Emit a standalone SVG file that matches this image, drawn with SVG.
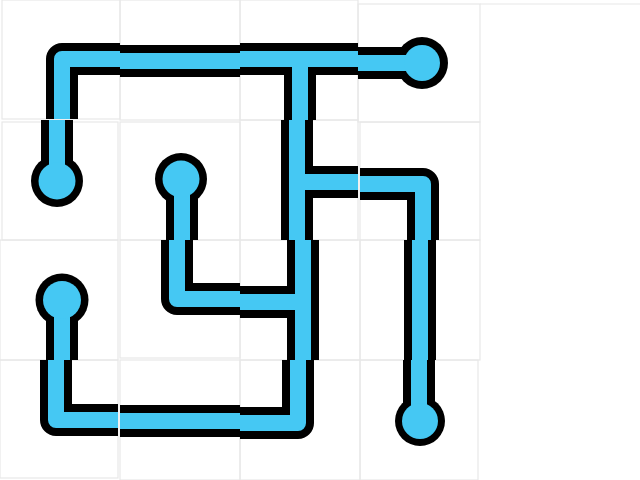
<svg xmlns="http://www.w3.org/2000/svg" width="640" height="480" viewBox="0 0 640 480">
<style>
.bg{fill:#ffffff}
.t{fill:none;stroke:#e8e8e8;stroke-width:1.2}
.o{fill:none;stroke:#000;stroke-width:32;stroke-linejoin:round}
.i{fill:none;stroke:#45c8f3;stroke-width:16;stroke-linejoin:round}
.oc{fill:#000}
.ic{fill:#45c8f3}
</style>
<rect class="bg" x="0" y="0" width="640" height="480"/>
<g id="tiles">
<rect class="t" x="2" y="0" width="118" height="119"/>
<rect class="t" x="120" y="0" width="120" height="120"/>
<rect class="t" x="240" y="0" width="118" height="120"/>
<rect class="t" x="358" y="4" width="122" height="118"/>
<line class="t" x1="480" y1="4" x2="640" y2="4"/>
<rect class="t" x="2" y="122" width="116" height="118"/>
<rect class="t" x="120" y="122" width="120" height="118"/>
<rect class="t" x="240" y="120" width="118" height="120"/>
<rect class="t" x="360" y="122" width="120" height="118"/>
<rect class="t" x="0" y="240" width="118" height="120"/>
<rect class="t" x="120" y="240" width="120" height="118"/>
<rect class="t" x="240" y="240" width="120" height="120"/>
<rect class="t" x="360" y="240" width="120" height="120"/>
<rect class="t" x="0" y="360" width="118" height="118"/>
<rect class="t" x="120" y="360" width="120" height="120"/>
<rect class="t" x="240" y="360" width="120" height="120"/>
<rect class="t" x="360" y="360" width="118" height="120"/>
</g>
<g id="t00"><path class="o" d="M120,59 H62 V119" stroke-width="33"/><path class="i" d="M120,59 H62 V119" stroke-width="15"/></g>
<g id="t10"><path class="o" d="M120,61 H240" stroke-width="37"/><path class="i" d="M120,61 H240" stroke-width="18"/></g>
<g id="t20"><path class="o" d="M240,59 H358 M300,59 V120" stroke-width="31"/><path class="i" d="M240,59 H358 M300,59 V120" stroke-width="15"/></g>
<g id="t30"><path class="o" d="M358,63 H422" stroke-width="29"/><circle class="oc" cx="422" cy="63" r="26"/><path class="i" d="M358,63 H422" stroke-width="14"/><circle class="ic" cx="422" cy="63" r="18"/></g>
<g id="t01"><path class="o" d="M57,120 V181" stroke-width="29"/><circle class="oc" cx="57" cy="181" r="26"/><path class="i" d="M57,120 V181" stroke-width="15"/><circle class="ic" cx="57" cy="181" r="18.5"/></g>
<g id="t11"><path class="o" d="M182,240 V179" stroke-width="32"/><circle class="oc" cx="181" cy="179" r="26"/><path class="i" d="M182,240 V179" stroke-width="16"/><circle class="ic" cx="181" cy="179" r="18.5"/></g>
<g id="t21"><path class="o" d="M297,120 V240 M297,182 H358" stroke-width="31"/><path class="i" d="M297,120 V240 M297,182 H358" stroke-width="15"/></g>
<g id="t31"><path class="o" d="M360,184 H423 V240" stroke-width="32"/><path class="i" d="M360,184 H423 V240" stroke-width="16"/></g>
<g id="t02"><path class="o" d="M62,360 V300" stroke-width="32"/><circle class="oc" cx="62" cy="300" r="26.5"/><path class="i" d="M62,360 V300" stroke-width="15"/><circle class="ic" cx="62" cy="300" r="19"/></g>
<g id="t12"><path class="o" d="M177,240 V299 H240" stroke-width="31"/><path class="i" d="M177,240 V299 H240" stroke-width="15"/></g>
<g id="t22"><path class="o" d="M303,240 V360 M240,302 H303" stroke-width="30"/><path class="i" d="M303,240 V360 M240,302 H303" stroke-width="13"/></g>
<g id="t32"><path class="o" d="M420,240 V360" stroke-width="34"/><path class="i" d="M420,240 V360" stroke-width="15"/></g>
<g id="t03"><path class="o" d="M56,360 V420 H118" stroke-width="33"/><path class="i" d="M56,360 V420 H118" stroke-width="16"/></g>
<g id="t13"><path class="o" d="M120,421 H240" stroke-width="33"/><path class="i" d="M120,421 H240" stroke-width="17"/></g>
<g id="t23"><path class="o" d="M240,423 H298 V360" stroke-width="30"/><path class="i" d="M240,423 H298 V360" stroke-width="14"/></g>
<g id="t33"><path class="o" d="M419,360 V421" stroke-width="31"/><circle class="oc" cx="420" cy="421" r="25"/><path class="i" d="M419,360 V421" stroke-width="15"/><circle class="ic" cx="420" cy="421" r="18"/></g>
</svg>
